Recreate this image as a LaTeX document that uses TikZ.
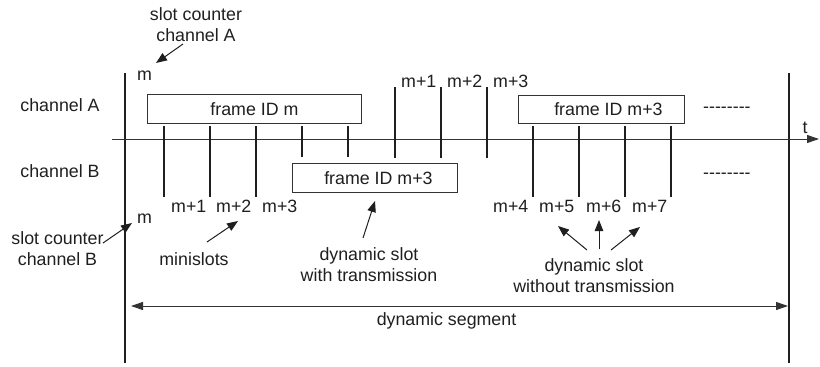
\documentclass[tikz,border=0pt]{standalone}
\usepackage{fontspec}
\setmainfont{Liberation Sans}
\usetikzlibrary{arrows.meta}
\newcommand\hy{\mbox{-}}
\begin{document}
\begin{tikzpicture}[x=1pt,y=-1pt,
  lbl/.style={font=\fontsize{17.8}{20.5}\selectfont, inner sep=0pt, text=black!88},
  frame/.style={draw=black!80, line width=0.9pt, fill=white, inner sep=0pt,
    font=\fontsize{17.8}{20.5}\selectfont, text=black!88},
  bar/.style={line width=1.8pt, draw=black!88},
  tickmark/.style={line width=1.6pt, draw=black!88},
  axis/.style={line width=1pt, draw=black!80, -{Triangle[length=12pt,width=8pt]}},
  ptr/.style={line width=1pt, draw=black!88, -{Triangle[length=11pt,width=8.5pt]}},
  seg/.style={line width=1pt, draw=black!80, {Triangle[length=12pt,width=8pt]}-{Triangle[length=12pt,width=8pt]}},
]
\useasboundingbox (0,0) rectangle (820,367);

% segment boundaries
\coordinate (Ltop) at (125,73); \coordinate (Lbot) at (125,363);
\coordinate (Rtop) at (789,73); \coordinate (Rbot) at (789,363);
\draw[bar] (Ltop) -- (Lbot);
\draw[bar] (Rtop) -- (Rbot);

% time axis
\coordinate (ax0) at (112,139); \coordinate (ax1) at (819,139);
\draw[axis] (ax0) -- (ax1);
\node[lbl, anchor=base] (t) at (805,133) {t};

% channel labels
\node[lbl, anchor=base] (chA) at (60,111) {channel A};
\node[lbl, anchor=base] (chB) at (60,177) {channel B};

% frames
\node[frame, anchor=north west, minimum width=214pt, minimum height=29pt] (fA1) at (147,94) {frame ID m};
\node[frame, anchor=north west, minimum width=166pt, minimum height=28pt] (fA2) at (518,95) {\hspace*{14pt}frame ID m+3};
\node[frame, anchor=north west, minimum width=165pt, minimum height=29pt] (fB) at (292,163) {\hspace*{7pt}frame ID m+3};

% minislot ticks
\foreach \x in {164,210,256,533,579,625,671} \draw[tickmark] (\x,126) -- (\x,197);
\foreach \x in {302,348} \draw[tickmark] (\x,126) -- (\x,157);
\foreach \x in {395,441,487} \draw[tickmark] (\x,87) -- (\x,158);

% dots
\node[lbl, anchor=base west] (dA) at (703,112) {\hy\hy\hy\hy\hy\hy\hy\hy};
\node[lbl, anchor=base west] (dB) at (703,178) {\hy\hy\hy\hy\hy\hy\hy\hy};

% slot counters
\node[lbl, anchor=base west] (mA) at (137,80) {m};
\node[lbl, anchor=base west] (mA1) at (401,87) {m+1};
\node[lbl, anchor=base west] (mA2) at (447,87) {m+2};
\node[lbl, anchor=base west] (mA3) at (493,87) {m+3};
\node[lbl, anchor=base west] (mB) at (137,223) {m};
\node[lbl, anchor=base west] (mB1) at (171,212) {m+1};
\node[lbl, anchor=base west] (mB2) at (216,212) {m+2};
\node[lbl, anchor=base west] (mB3) at (262,212) {m+3};
\node[lbl, anchor=base west] (mB4) at (493,212) {m+4};
\node[lbl, anchor=base west] (mB5) at (539,212) {m+5};
\node[lbl, anchor=base west] (mB6) at (586,212) {m+6};
\node[lbl, anchor=base west] (mB7) at (632,212) {m+7};

% annotations
\node[lbl, anchor=base, align=center] (scA) at (196,41) {slot counter\\channel A};
\coordinate (scAs) at (183,44); \coordinate (scAe) at (156,63);
\draw[ptr] (scAs) -- (scAe);

\node[lbl, anchor=base, align=center] (scB) at (57.5,265) {slot counter\\channel B};
\coordinate (scBs) at (103,243); \coordinate (scBe) at (132,223);
\draw[ptr] (scBs) -- (scBe);

\node[lbl, anchor=base] (mini) at (194,265) {minislots};
\coordinate (minis) at (207,242); \coordinate (minie) at (238,221);
\draw[ptr] (minis) -- (minie);

\node[lbl, anchor=base, align=center] (dsw) at (369,281) {dynamic slot\\with transmission};
\coordinate (dsws) at (363,238); \coordinate (dswe) at (375,201);
\draw[ptr] (dsws) -- (dswe);

\node[lbl, anchor=base, align=center] (dswo) at (594,292) {dynamic slot\\without transmission};
\coordinate (o1s) at (587,250); \coordinate (o1e) at (558,226);
\coordinate (o2s) at (599,249); \coordinate (o2e) at (599,220);
\coordinate (o3s) at (611,250); \coordinate (o3e) at (640,227);
\draw[ptr] (o1s) -- (o1e);
\draw[ptr] (o2s) -- (o2e);
\draw[ptr] (o3s) -- (o3e);

% dynamic segment
\coordinate (sg0) at (131,306); \coordinate (sg1) at (788,306);
\draw[seg] (sg0) -- (sg1);
\node[lbl, anchor=base] (dseg) at (446.5,325) {dynamic segment};
\end{tikzpicture}
\end{document}
